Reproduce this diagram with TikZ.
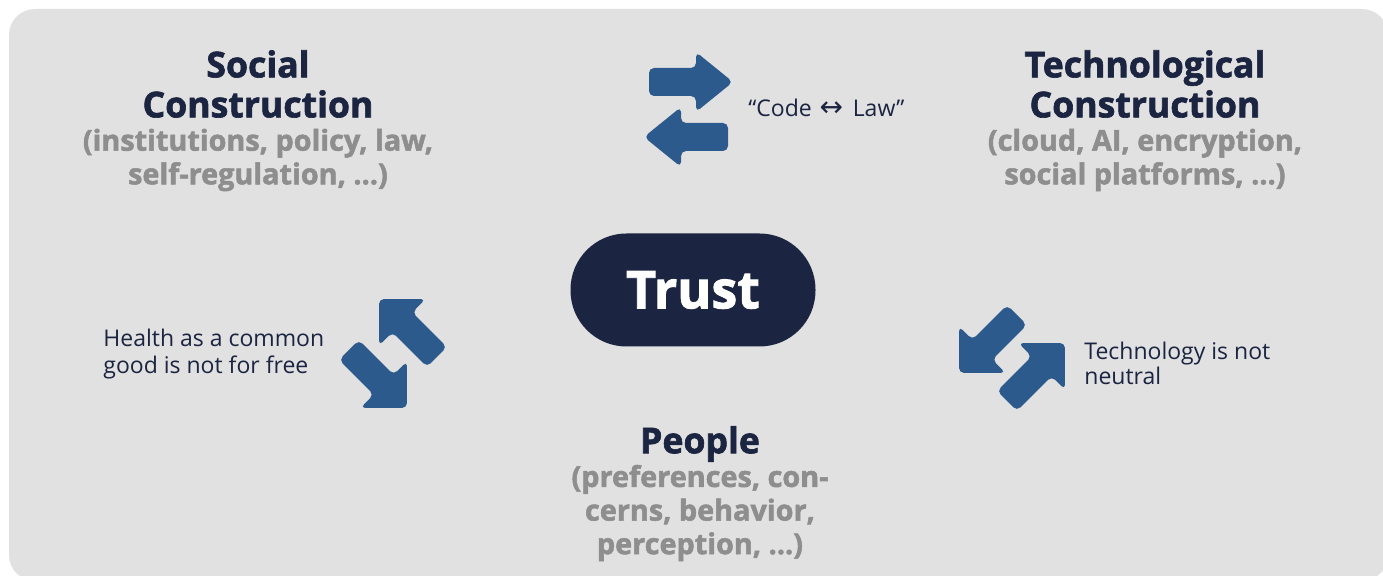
\documentclass[tikz,border=0pt]{standalone}
\usepackage{fontspec}
\setmainfont{Open Sans}
\newfontfamily\heavyfont{Open Sans}[BoldFeatures={FakeBold=1.8}]
\newfontfamily\arrowfont{DejaVu Sans}
\usetikzlibrary{positioning}

\definecolor{panelgray}{HTML}{E1E1E1}
\definecolor{navy}{HTML}{1B2440}
\definecolor{arrowblue}{HTML}{2D5A8C}
\definecolor{detailgray}{HTML}{8E8E8E}

\tikzset{pics/fatarrow/.style args={#1/#2/#3}{code={
  \fill[arrowblue,rounded corners=2.5pt] (0,-14) -- ({#1-#2},-14) -- ({#1-#2},-#3) -- (#1,0)
    -- ({#1-#2},#3) -- ({#1-#2},14) -- (0,14) -- cycle;}}}

\begin{document}
\begin{tikzpicture}[x=0.5pt,y=-0.5pt,
  heading/.style={inner sep=0pt,align=center,text=navy,font=\heavyfont\bfseries\fontsize{17.8}{20}\selectfont},
  detail/.style={inner sep=0pt,align=center,text=detailgray,font=\heavyfont\bfseries\fontsize{14.4}{16.8}\selectfont},
  remark/.style={inner sep=0pt,align=left,anchor=west,text=navy,font=\fontsize{11.5}{12.6}\selectfont},
  pill/.style={rounded corners=28pt,fill=navy,text=white,minimum width=122.5pt,minimum height=56.5pt,font=\heavyfont\bfseries\fontsize{26}{32}\selectfont}]
\clip (0,0) rectangle (1383,576);
\fill[panelgray,rounded corners=13pt] (9,9) rectangle (1388,581);

\node(trust)[pill] at (693,290) {Trust};

\node(social)[heading] at (258,84) {Social\\Construction};
\node(socialx)[detail] at (258,160) {(institutions, policy, law,\\self-regulation, ...)};
\node(techno)[heading] at (1145,84) {Technological\\Construction};
\node(technox)[detail] at (1145,160) {(cloud, AI, encryption,\\social platforms, ...)};
\node(people)[heading] at (700,444) {People};
\node(peoplex)[detail] at (700,513) {(preferences, con-\\cerns, behavior,\\perception, ...)};

\node(codelaw)[remark] at (748,108) {“Code\,\,{\arrowfont\fontsize{14}{14}\selectfont ↔}\, Law”};
\node(health)[remark] at (103,354) {Health as a common\\[1pt]good is not for free};
\node(neutral)[remark] at (1084,363) {Technology is not\\neutral};

% arrows between the three corners
\pic at (649,82) {fatarrow=84/37/30};
\pic[rotate=180] at (728,137) {fatarrow=84/37/30};
\pic[rotate=135] at (437,357) {fatarrow=82/33/33};
\pic[rotate=-45] at (349,350) {fatarrow=82/33/33};
\pic[rotate=-135] at (1017,315) {fatarrow=82/33/33};
\pic[rotate=45] at (1007,401) {fatarrow=82/33/33};
\end{tikzpicture}
\end{document}
